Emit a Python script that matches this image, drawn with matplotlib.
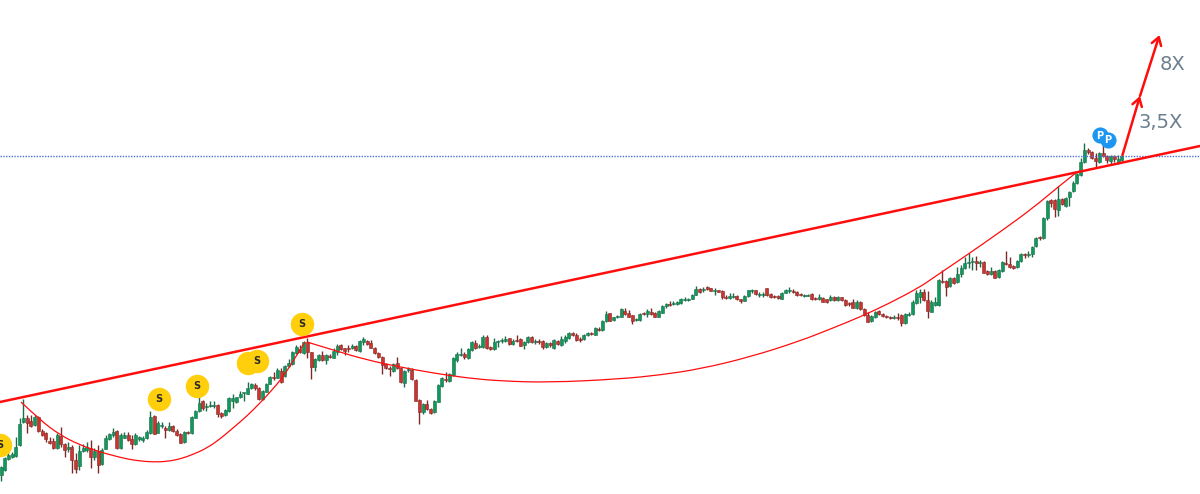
import numpy as np
import matplotlib.pyplot as plt
from matplotlib.path import Path
from matplotlib.patches import PathPatch

highs=[466,457,452,452,437,418,399,415,415,415,
416,429,432,437,438,433,427,443,442,445,
453,445,444,442,440,448,445,448,435,433,
428,430,433,432,432,435,433,436,436,430,
411,415,421,422,426,422,425,429,433,431,
431,416,410,397,400,403,401,401,404,412,
409,397,394,397,391,392,382,383,383,387,
390,383,376,372,368,368,365,359,351,345,
345,341,338,352,358,354,351,354,354,348,
344,344,348,345,344,345,340,337,340,340,
347,352,356,363,366,363,357,367,370,367,
368,379,399,403,400,408,400,384,377,372,
373,357,352,348,352,348,341,340,344,335,
335,346,338,340,338,336,338,339,335,338,
341,336,336,339,339,340,342,342,339,340,
336,335,332,332,333,337,334,332,332,327,
327,320,311,313,317,315,308,308,310,315,
318,313,312,309,308,312,310,305,303,301,
301,301,298,297,298,294,286,288,287,286,
288,288,290,290,295,293,293,295,299,295,
290,289,290,292,292,288,293,295,295,292,
289,287,289,291,293,294,294,293,297,294,
297,299,295,296,296,297,299,302,299,300,
301,308,312,315,311,310,313,315,316,315,
313,314,313,312,300,290,289,289,291,300,
297,279,270,280,277,277,267,265,257,253,
257,256,260,261,270,267,270,269,261,251,
257,265,260,253,253,251,246,237,236,217,
200,199,199,186,198,197,191,181,173,158,
143,148,151,153,152,145,155,155,155,155,153]
lows=[481,471,460,458,457,446,423,433,427,426,
432,436,442,444,449,449,447,457,452,473,
473,470,452,452,468,460,473,465,449,440,
437,449,449,438,441,449,445,441,442,439,
434,434,433,428,438,431,432,436,443,443,
434,434,418,412,410,411,407,408,417,418,
416,412,408,403,398,401,394,389,390,400,
400,392,384,380,378,383,377,367,365,354,
353,354,358,379,371,361,361,364,358,358,
355,350,355,352,349,351,352,345,345,348,
354,358,374,369,376,372,369,383,387,372,
380,401,424,414,410,414,413,402,387,382,
382,376,362,356,359,359,351,349,348,348,
349,350,350,347,343,342,345,345,342,346,
349,343,343,344,344,349,348,347,349,345,
346,343,339,336,341,342,340,336,335,335,
331,331,322,321,321,318,317,315,317,324,
321,321,315,317,315,317,317,313,308,306,
305,305,304,301,301,299,295,293,292,290,
291,295,292,299,299,299,298,300,303,301,
297,293,295,297,297,296,298,298,299,299,
293,293,293,296,296,297,296,300,300,300,
302,303,301,301,301,301,306,306,308,309,
310,316,322,322,318,315,317,318,319,319,
320,326,324,316,315,304,303,301,318,312,
306,306,283,296,287,284,283,277,269,268,
270,270,267,273,275,275,278,278,272,265,
268,269,268,262,258,257,257,247,240,239,
220,207,217,216,205,207,206,192,184,176,
163,154,159,167,163,157,163,164,162,164,161]
opens=[475,470,459,457,456,445,422,418,421,425,
417,431,433,441,441,448,436,444,449,447,
460,466,451,450,448,457,451,464,449,439,
435,431,448,438,435,439,444,439,440,438,
433,416,433,426,428,430,426,431,434,442,
432,433,418,411,401,407,406,406,405,413,
415,411,401,402,397,393,394,388,385,388,
399,392,384,377,378,371,376,366,364,353,
349,353,342,352,367,360,355,360,356,358,
352,345,348,348,348,346,351,342,341,343,
348,353,357,364,368,371,363,368,383,370,
370,380,400,412,404,409,412,402,386,379,
381,375,360,355,354,358,350,343,347,347,
337,347,349,342,341,341,338,344,340,339,
345,342,337,342,341,341,347,343,348,341,
345,341,338,333,335,339,339,335,333,335,
329,330,321,313,320,317,317,311,313,315,
320,320,313,314,312,313,317,313,306,304,
304,304,303,300,300,299,295,289,290,287,
288,291,290,291,297,298,297,296,299,301,
296,291,290,295,295,288,294,296,296,299,
293,291,291,292,294,296,296,294,298,299,
298,299,300,297,300,297,300,303,302,308,
302,309,315,321,317,311,314,316,317,318,
317,315,323,315,314,303,297,292,300,312,
305,305,281,281,286,278,282,274,268,263,
262,261,263,262,271,274,271,277,271,263,
264,266,267,261,254,255,254,246,237,238,
218,200,200,210,199,206,197,191,183,175,
162,150,152,158,162,153,156,161,156,162,160]
closes=[467,458,455,454,447,424,418,423,426,417,
431,435,439,443,448,435,444,450,447,460,
469,451,448,447,457,451,465,450,438,434,
432,448,435,435,440,444,435,437,438,432,
417,434,423,425,430,426,431,435,443,432,
433,417,411,403,408,406,405,405,414,416,
410,398,398,397,394,392,388,384,388,399,
391,384,377,378,370,382,366,363,352,347,
352,342,352,367,359,355,360,355,357,351,
346,349,351,349,346,350,341,339,344,348,
353,357,365,368,369,364,368,382,371,369,
379,401,412,404,409,413,401,385,378,380,
374,358,354,354,357,349,342,348,346,337,
348,349,342,341,340,339,344,341,341,346,
342,337,342,341,342,347,343,345,340,344,
339,337,333,335,340,340,335,333,334,328,
330,321,314,321,317,316,309,314,317,321,
319,314,314,311,314,317,311,306,304,305,
303,302,299,299,299,295,289,292,289,289,
291,290,292,297,298,296,296,299,301,296,
290,290,294,294,294,295,297,297,298,293,
290,290,292,295,295,295,295,299,299,297,
302,302,297,300,297,300,305,304,308,302,
309,315,322,316,312,314,316,317,318,317,
318,323,314,314,302,293,292,300,311,302,
302,280,282,287,278,283,274,268,263,262,
261,263,262,273,274,271,278,270,262,264,
267,268,261,254,255,254,247,238,238,218,
201,203,209,199,204,198,192,183,174,162,
150,152,158,161,153,156,160,156,159,159,156]

# trend line, resistance level
trend_x=[0,1200]
trend_y=[402,146]
level_y=156

# the two hand drawn cups
cup1_x=[21,40,60,80,100,115,127,140,153,167,180,193,207,220,233,247,260,272,283,295,305]
cup1_y=[402,420,435,445,452,456,459,461,462,461.5,459,454.5,448,439,428,416,403,390,377,358,342]
cup2_x=[307,333,367,400,433,467,500,550,620,660,700,750,800,833,860,890,920,933,967,1000,1033,1058,1077]
cup2_y=[342,350,360,367,373,378,381,382.5,379,375,369,357,341,328,317,303,287,278,255,232,208,187,172]

# projection arrow
arrow_x=[1122.5,1140,1159.5]
arrow_y=[155,96,35]
arrow_labels=['3,5X','8X']
label_x=[1138,1160]
label_y=[122.5,64.5]

# dividend and P markers
coin_x=[0,159,197,248,257,302]
coin_y=[445,399,386,363,361,324]
coin_text=['S','S','S','','S','S']
p_x=[1099.5,1108]
p_y=[135.5,140]

x0=1.0
step=3.736
red='#ff0d0d'
green_body='#0f9a5c'
green_edge='#1c6b4a'
red_body='#cf332e'
red_edge='#7c2a28'

opens=np.array(opens)
closes=np.array(closes)
xs=x0+step*np.arange(len(opens))
up=closes<opens

def smooth_curve(px,py):
    # read points act as quadratic control points, the line passes between them
    verts=[(px[0],py[0])]
    codes=[Path.MOVETO]
    for i in range(1,len(px)-1):
        verts.append((px[i],py[i]))
        codes.append(Path.CURVE3)
        if i<len(px)-2:
            verts.append(((px[i]+px[i+1])/2,(py[i]+py[i+1])/2))
        else:
            verts.append((px[-1],py[-1]))
        codes.append(Path.CURVE3)
    return Path(verts,codes)

fig=plt.figure(figsize=(12,4.94),dpi=100)
ax=fig.add_axes([0,0,1,1])
ax.set_xlim(0,1200)
ax.set_ylim(494,0)
ax.axis('off')

ax.vlines(xs[up],np.array(highs)[up],np.array(lows)[up],color=green_edge,lw=1,zorder=2)
ax.vlines(xs[~up],np.array(highs)[~up],np.array(lows)[~up],color=red_edge,lw=1,zorder=2)
ax.bar(xs[up],(opens-closes)[up],bottom=closes[up],width=3.0,color=green_body,edgecolor=green_edge,lw=0.4,zorder=3)
ax.bar(xs[~up],(closes-opens)[~up],bottom=opens[~up],width=3.0,color=red_body,edgecolor=red_edge,lw=0.4,zorder=3)

ax.axhline(level_y,color='#4a70dc',lw=1,ls=(0,(1,1)),zorder=4)
ax.plot(trend_x,trend_y,color=red,lw=1.8,zorder=5)
ax.add_patch(PathPatch(smooth_curve(cup1_x,cup1_y),fc='none',ec=red,lw=0.9,zorder=5))
ax.add_patch(PathPatch(smooth_curve(cup2_x,cup2_y),fc='none',ec=red,lw=0.9,zorder=5))

for i in range(len(arrow_x)-1):
    ax.annotate('',xy=(arrow_x[i+1],arrow_y[i+1]),xytext=(arrow_x[i],arrow_y[i]),
                arrowprops=dict(arrowstyle='->,head_length=0.55,head_width=0.35',color=red,lw=1.8,shrinkA=0,shrinkB=0),zorder=6)
for i in range(len(arrow_labels)):
    ax.text(label_x[i],label_y[i],arrow_labels[i],color='#6b7f8e',fontsize=14,ha='left',va='center',zorder=7)

ax.scatter(coin_x,coin_y,s=285,color='#ffcf0b',lw=0,zorder=8)
for i in range(len(coin_x)):
    ax.text(coin_x[i],coin_y[i],coin_text[i],color='#2a2a2a',fontsize=7,fontweight='bold',ha='center',va='center',zorder=9)
ax.scatter(p_x,p_y,s=135,color='#1c96f0',lw=0,zorder=8)
for i in range(len(p_x)):
    ax.text(p_x[i],p_y[i],'P',color='white',fontsize=7,fontweight='bold',ha='center',va='center',zorder=9)

fig.savefig('out.png',dpi=100)
